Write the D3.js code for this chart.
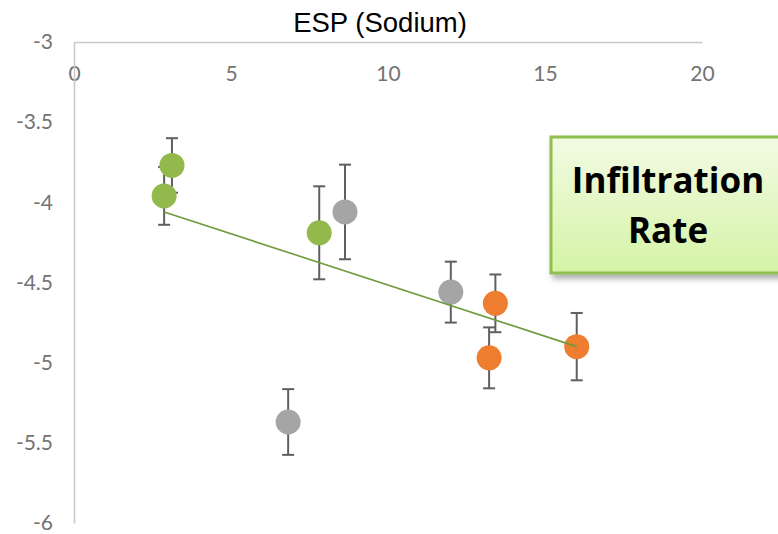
<!DOCTYPE html>
<html>
<head>
<meta charset="utf-8">
<script src="https://cdn.jsdelivr.net/npm/d3@7"></script>
<style>
  html, body { margin: 0; padding: 0; background: #fff; }
  svg { display: block; }
</style>
</head>
<body>
<svg id="chart" width="778" height="534"></svg>
<script>
// ---- data ----
const esp      = [3.12, 2.87, 7.81, 8.63, 12.0, 13.42, 13.22, 6.82, 16.01];
const rate     = [-3.77, -3.96, -4.19, -4.06, -4.56, -4.63, -4.97, -5.37, -4.90];
const rateErr  = [0.17, 0.18, 0.29, 0.295, 0.19, 0.18, 0.19, 0.205, 0.21];
const group    = ["green", "green", "green", "gray", "gray", "orange", "orange", "gray", "orange"];
const trendX   = [2.87, 16.01];
const trendY   = [-4.06, -4.90];
const xTicks   = [0, 5, 10, 15, 20];
const yTicks   = [-3, -3.5, -4, -4.5, -5, -5.5, -6];
const title    = "ESP (Sodium)";
const boxLines = ["Infiltration", "Rate"];

const colors = { green: "#93b84c", gray: "#a5a5a5", orange: "#ee7d30" };

const svg = d3.select("#chart");

const x = d3.scaleLinear().domain([0, 20]).range([74, 702]);
const y = d3.scaleLinear().domain([-3, -6]).range([42, 523]);

// title
svg.append("text")
  .attr("x", 380).attr("y", 32)
  .attr("text-anchor", "middle")
  .attr("font-family", "Liberation Sans, Arial, sans-serif")
  .attr("font-size", 27.5)
  .attr("fill", "#000")
  .text(title);

// axes lines
const axisColor = "#c8c8c8";
const xAxis = d3.axisTop(x).tickValues(xTicks).tickSize(0).tickFormat(d => String(d));
const gx = svg.append("g").attr("transform", `translate(0,${y(-3)})`).call(xAxis);
gx.select(".domain").attr("stroke", axisColor).attr("stroke-width", 1.5);
gx.selectAll("text")
  .attr("transform", "translate(0,32)")
  .attr("font-family", "Lato, sans-serif")
  .attr("font-size", 21)
  .attr("fill", "#737373")
  .attr("dy", "0.35em")
  .attr("y", 0);

const yAxis = d3.axisLeft(y).tickValues(yTicks).tickSize(0).tickFormat(d => String(d));
const gy = svg.append("g").attr("transform", `translate(${x(0)},0)`).call(yAxis);
gy.select(".domain").attr("stroke", axisColor).attr("stroke-width", 1.5);
gy.selectAll("text")
  .attr("x", -21)
  .attr("font-family", "Lato, sans-serif")
  .attr("font-size", 21)
  .attr("fill", "#737373");

// data rows
const rows = esp.map((v, i) => ({ x: v, y: rate[i], e: rateErr[i], g: group[i] }));

// error bars
const eb = svg.append("g").attr("stroke", "#5f5f5f").attr("stroke-width", 2);
rows.forEach(d => {
  eb.append("line").attr("x1", x(d.x)).attr("x2", x(d.x))
    .attr("y1", y(d.y + d.e)).attr("y2", y(d.y - d.e));
  [d.y + d.e, d.y - d.e].forEach(v => {
    eb.append("line").attr("x1", x(d.x) - 6).attr("x2", x(d.x) + 6)
      .attr("y1", y(v)).attr("y2", y(v));
  });
});

// points
svg.append("g").selectAll("circle").data(rows).join("circle")
  .attr("cx", d => x(d.x)).attr("cy", d => y(d.y))
  .attr("r", 12.5)
  .attr("fill", d => colors[d.g]);

// trend line
svg.append("line")
  .attr("x1", x(trendX[0])).attr("y1", y(trendY[0]))
  .attr("x2", x(trendX[1])).attr("y2", y(trendY[1]))
  .attr("stroke", "#6f9a3e").attr("stroke-width", 1.6);

// text box
const defs = svg.append("defs");
const grad = defs.append("linearGradient").attr("id", "boxGrad")
  .attr("x1", 0).attr("y1", 0).attr("x2", 0).attr("y2", 1);
grad.append("stop").attr("offset", "0%").attr("stop-color", "#f2fbe4");
grad.append("stop").attr("offset", "100%").attr("stop-color", "#d5f3a6");
const filt = defs.append("filter").attr("id", "shadow")
  .attr("x", "-10%").attr("y", "-10%").attr("width", "130%").attr("height", "130%");
filt.append("feDropShadow").attr("dx", 3).attr("dy", 4).attr("stdDeviation", 3)
  .attr("flood-color", "#000").attr("flood-opacity", 0.35);

svg.append("rect")
  .attr("x", 551).attr("y", 137).attr("width", 240).attr("height", 136)
  .attr("fill", "url(#boxGrad)")
  .attr("stroke", "#8fbf4f").attr("stroke-width", 3)
  .attr("filter", "url(#shadow)");

svg.append("g").selectAll("text").data(boxLines).join("text")
  .attr("x", 668).attr("y", (d, i) => 193 + i * 50)
  .attr("text-anchor", "middle")
  .attr("font-family", "Open Sans, sans-serif")
  .attr("font-weight", "bold")
  .attr("font-size", 35)
  .style("font-variant-ligatures", "none")
  .attr("fill", "#000")
  .text(d => d);
</script>
</body>
</html>
